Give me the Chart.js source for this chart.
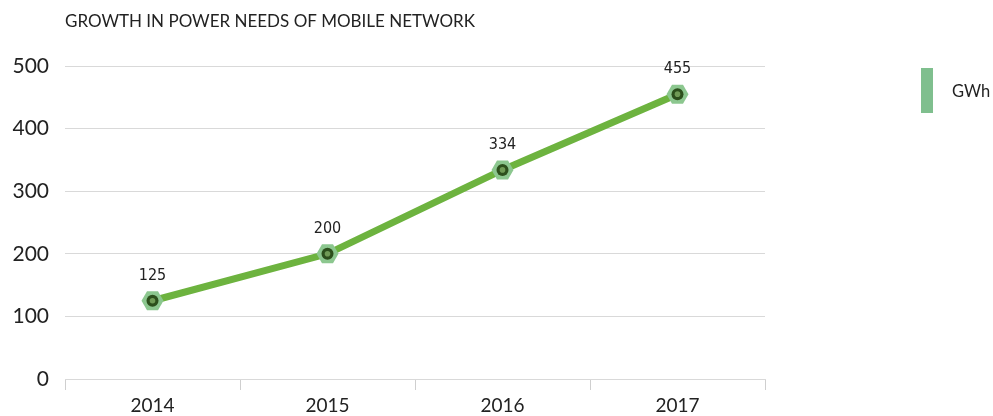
<!DOCTYPE html>
<html>
<head>
<meta charset="utf-8">
<script src="https://cdn.jsdelivr.net/npm/chart.js@4"></script>
<style>
  html, body { margin: 0; padding: 0; background: #fff; }
  #wrap { width: 993px; height: 416px; position: relative; }
</style>
</head>
<body>
<div id="wrap"><canvas id="chart" width="993" height="416"></canvas></div>
<script>
const years = ["2014", "2015", "2016", "2017"];
const gwh = [125, 200, 334, 455];
const yTicks = [0, 100, 200, 300, 400, 500];
const chartTitle = "GROWTH IN POWER NEEDS OF MOBILE NETWORK";
const seriesName = "GWh";

const LINE = "#6db33f";
const FONT = "Lato, 'Open Sans', sans-serif";

/* hexagon markers + value labels */
const markers = {
  id: "markers",
  afterDatasetsDraw(chart) {
    const ctx = chart.ctx;
    const meta = chart.getDatasetMeta(0);
    meta.data.forEach((pt, i) => {
      const { x, y } = pt.getProps(["x", "y"], true);
      hex(ctx, x, y, 11, "#8cc78f");
      ctx.beginPath();
      ctx.arc(x, y, 6, 0, Math.PI * 2);
      ctx.fillStyle = "#2c4f1c";
      ctx.fill();
      ctx.beginPath();
      ctx.arc(x, y, 2.8, 0, Math.PI * 2);
      ctx.fillStyle = "#6f9a55";
      ctx.fill();

      ctx.fillStyle = "#222";
      ctx.font = "16px 'Liberation Sans Narrow', 'DejaVu Sans Condensed', sans-serif";
      ctx.textAlign = "center";
      ctx.textBaseline = "middle";
      ctx.fillText(gwh[i], x, y - 25);
    });
  }
};

function hex(ctx, x, y, r, color) {
  ctx.beginPath();
  for (let k = 0; k < 6; k++) {
    const a = Math.PI / 3 * k;
    const px = x + r * Math.cos(a), py = y + r * Math.sin(a);
    k ? ctx.lineTo(px, py) : ctx.moveTo(px, py);
  }
  ctx.closePath();
  ctx.fillStyle = color;
  ctx.fill();
}

/* title + legend */
const decor = {
  id: "decor",
  afterDraw(chart) {
    const ctx = chart.ctx;
    ctx.save();
    ctx.fillStyle = "#222";
    ctx.font = "17px " + FONT;
    ctx.textAlign = "left";
    ctx.textBaseline = "middle";
    ctx.fillText(chartTitle, 65, 22);

    ctx.fillStyle = "#7fbf8e";
    ctx.fillRect(921, 68, 12, 45);
    ctx.fillStyle = "#222";
    ctx.font = "16.5px " + FONT;
    ctx.fillText(seriesName, 952, 92);
    ctx.restore();
  }
};

new Chart(document.getElementById("chart"), {
  type: "line",
  data: {
    labels: years,
    datasets: [{
      label: seriesName,
      data: gwh,
      borderColor: LINE,
      borderWidth: 7,
      pointRadius: 0,
      tension: 0,
      fill: false
    }]
  },
  options: {
    responsive: false,
    animation: false,
    layout: { padding: { left: 0, right: 228, top: 66, bottom: 0 } },
    plugins: { legend: { display: false }, tooltip: { enabled: false } },
    scales: {
      x: {
        offset: true,
        grid: { offset: true, drawOnChartArea: false, drawTicks: true, tickLength: 11, color: "#cfcfcf" },
        border: { display: true, color: "#d9d9d9" },
        ticks: { color: "#222", font: { family: FONT, size: 19 }, padding: 4 },
        afterFit(s) { s.height = 37; }
      },
      y: {
        min: 0,
        max: 500,
        afterBuildTicks(s) { s.ticks = yTicks.map(v => ({ value: v })); },
        grid: { color: "#d9d9d9", drawTicks: false },
        border: { display: false },
        ticks: { color: "#222", font: { family: FONT, size: 21 }, padding: 16 },
        afterFit(s) { s.width = 65; }
      }
    }
  },
  plugins: [markers, decor]
});
</script>
</body>
</html>
